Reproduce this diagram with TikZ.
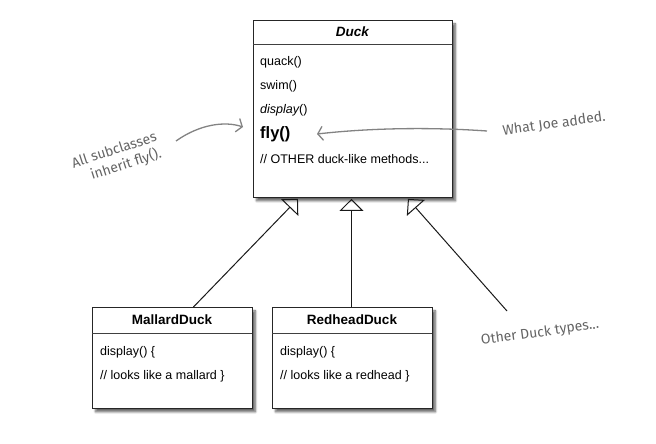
\documentclass[tikz,border=0pt]{standalone}
\usepackage{fontspec}
\setmainfont{Liberation Sans}
\newfontfamily\handfont{Fira Sans}
\usetikzlibrary{arrows.meta,shadows.blur}
\definecolor{handgray}{RGB}{100,100,100}
\tikzset{
  classbox/.style={draw=black!85, line width=0.9pt, fill=white, anchor=north west, inner sep=0pt,
     blur shadow={shadow xshift=3pt, shadow yshift=-3.5pt, shadow blur steps=6, shadow opacity=60}},
  sepline/.style={draw=black!75, line width=0.8pt},
  member/.style={anchor=west, inner sep=0pt, font=\fontsize{12.5}{14}\selectfont},
  ctitle/.style={inner sep=0pt, font=\fontsize{13.5}{15}\selectfont\bfseries},
  inh/.style={draw=black!90, line width=1pt, -{Triangle[open, length=12pt, width=24pt, line width=1pt]}},
  hand/.style={inner sep=0pt, text=handgray, font=\handfont\fontsize{14}{17}\selectfont},
  handarrow/.style={draw=handgray!80, line width=1.3pt, -{Straight Barb[length=5pt, width=14pt, line width=1.3pt]}}
}
\begin{document}
\begin{tikzpicture}[x=1pt,y=-1pt]
\useasboundingbox (0,0) rectangle (656,444);

% Duck class
\node[classbox, minimum width=199pt, minimum height=177pt] (duck) at (253,20) {};
\draw[sepline] (253,44) -- (452,44);
\node[ctitle] (ducktitle) at (352.5,32) {\itshape Duck};
\node[member] (m1) at (260,62) {quack()};
\node[member] (m2) at (260,86) {swim()};
\node[member] (m3) at (260,110) {\itshape display\upshape()};
\node[member, font=\fontsize{16.5}{18}\selectfont\bfseries] (m4) at (260,134) {fly()};
\node[member] (m5) at (260,159) {// OTHER duck-like methods...};

% MallardDuck
\node[classbox, minimum width=160pt, minimum height=101pt] (mallard) at (92,307) {};
\draw[sepline] (92,333) -- (252,333);
\node[ctitle] (mtitle) at (172,320) {MallardDuck};
\node[member] (md1) at (100,352) {display() \{};
\node[member] (md2) at (100,376) {// looks like a mallard \}};

% RedheadDuck
\node[classbox, minimum width=160pt, minimum height=101pt] (redhead) at (272,307) {};
\draw[sepline] (272,333) -- (432,333);
\node[ctitle] (rtitle) at (352,320) {RedheadDuck};
\node[member] (rd1) at (280,352) {display() \{};
\node[member] (rd2) at (280,376) {// looks like a redhead \}};

% inheritance connectors
\coordinate (other) at (507,311);
\draw[inh] ([xshift=21pt]mallard.north) -- ([xshift=-55pt,yshift=-1pt]duck.south);
\draw[inh] ([xshift=-1pt]redhead.north) -- ([xshift=-1.5pt,yshift=-1pt]duck.south);
\draw[inh] (other) -- ([xshift=55pt,yshift=-1pt]duck.south);

% annotations
\node[hand, rotate=18, align=center] (a1) at (117,159) {All subclasses\\ \hspace*{14pt}inherit fly().};
\node[hand, rotate=8] (joe) at (554,124) {What Joe added.};
\node[hand, rotate=8] (oth) at (540,333) {Other Duck types...};

\coordinate (c1s) at (176,141);
\coordinate (c1e) at (243,127);
\draw[handarrow] (c1s) .. controls (200,124) and (225,121) .. (c1e);
\coordinate (c2s) at (487,131);
\draw[handarrow] (c2s) .. controls (430,127) and (370,128) .. (m4.east -| 317,0);
\end{tikzpicture}
\end{document}
